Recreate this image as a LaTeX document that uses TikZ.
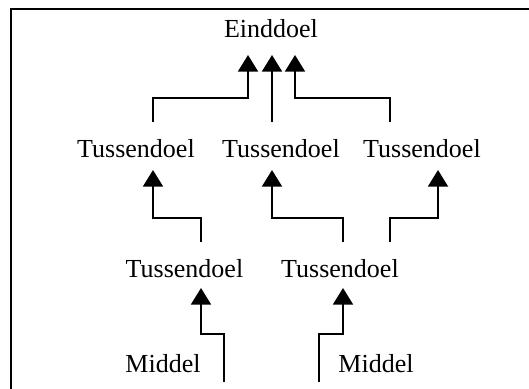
\documentclass[tikz,border=0pt]{standalone}
\usepackage{fontspec}
\setmainfont{Liberation Serif}
\usetikzlibrary{arrows.meta}
\begin{document}
\begin{tikzpicture}[x=0.75pt,y=-0.75pt,
  lbl/.style={anchor=base,inner sep=0pt,font=\fontsize{19.5}{23}\selectfont},
  conn/.style={line width=1.5pt,-{Triangle[width=15pt,length=12.5pt]}},
  frameline/.style={line width=1.6pt}]
\useasboundingbox (0,0) rectangle (529,389);
\draw[frameline] (529,9) -- (11,9) -- (11,389);
% texts
\node[lbl] (e)  at (271,37)  {Einddoel};
\node[lbl] (t1) at (136,157) {Tussendoel};
\node[lbl] (t2) at (281,157) {Tussendoel};
\node[lbl] (t3) at (422,157) {Tussendoel};
\node[lbl] (u1) at (184.5,277) {Tussendoel};
\node[lbl] (u2) at (340,277) {Tussendoel};
\node[lbl] (m1) at (163,372) {Middel};
\node[lbl] (m2) at (376,372) {Middel};
% connector ends
\coordinate (ea) at (248,55);
\coordinate (eb) at (272,55);
\coordinate (ec) at (295,55);
\coordinate (t1s) at (153,122);
\coordinate (t2s) at (272,122);
\coordinate (t3s) at (390,122);
\coordinate (t1t) at (153,170);
\coordinate (t2t) at (272,170);
\coordinate (t3t) at (438,170);
\coordinate (u1a) at (201,242);
\coordinate (u2a) at (343,242);
\coordinate (u2b) at (390,242);
\coordinate (u1t) at (201,288);
\coordinate (u2t) at (343,288);
\coordinate (m1s) at (224,382);
\coordinate (m2s) at (319,382);
% connectors to Einddoel
\draw[conn] (t1s) -- ++(0,-24) -| (ea);
\draw[conn] (t2s) -- (eb);
\draw[conn] (t3s) -- ++(0,-24) -| (ec);
% connectors to Tussendoel row
\draw[conn] (u1a) -- ++(0,-24) -| (t1t);
\draw[conn] (u2a) -- ++(0,-24) -| (t2t);
\draw[conn] (u2b) -- ++(0,-24) -| (t3t);
% connectors from Middel
\draw[conn] (m1s) -- ++(0,-48) -| (u1t);
\draw[conn] (m2s) -- ++(0,-48) -| (u2t);
\end{tikzpicture}
\end{document}
